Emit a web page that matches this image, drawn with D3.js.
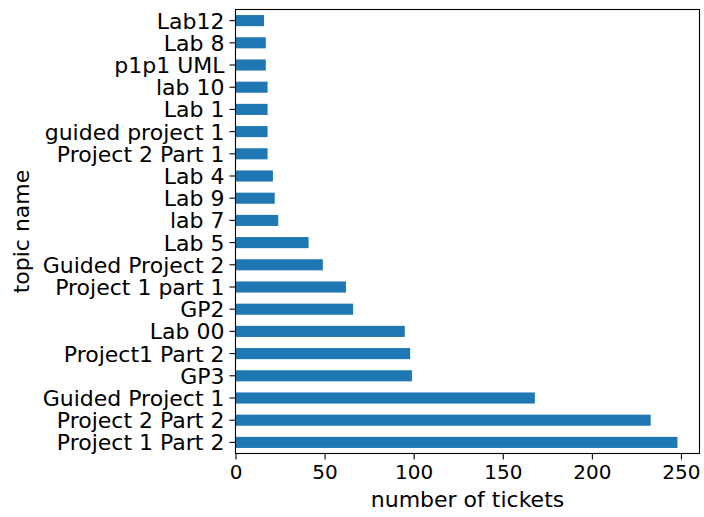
<!DOCTYPE html>
<html>
<head>
<meta charset="utf-8">
<script src="https://cdn.jsdelivr.net/npm/d3@7"></script>
<style>
html, body { margin: 0; padding: 0; background: #fff; }
svg { display: block; font-family: "DejaVu Sans", sans-serif; }
</style>
</head>
<body>
<svg id="chart" width="704" height="517"></svg>
<script>
const topics = ["Lab12","Lab 8","p1p1 UML","lab 10","Lab 1","guided project 1","Project 2 Part 1","Lab 4","Lab 9","lab 7","Lab 5","Guided Project 2","Project 1 part 1","GP2","Lab 00","Project1 Part 2","GP3","Guided Project 1","Project 2 Part 2","Project 1 Part 2"];
const tickets = [16,17,17,18,18,18,18,21,22,24,41,49,62,66,95,98,99,168,233,248];
const xTicks = [0,50,100,150,200,250];
const xLabel = "number of tickets";
const yLabel = "topic name";

const svg = d3.select("#chart");
const mLeft = 235.5, mRight = 699.5, mTop = 9.5, mBottom = 453.5;

const x = d3.scaleLinear().domain([0, d3.max(tickets) * 1.05]).range([mLeft, mRight]);
const y = d3.scaleBand().domain(topics).range([mTop, mBottom]).paddingInner(0.5).paddingOuter(0.25);

svg.append("g").selectAll("rect").data(topics).join("rect")
  .attr("x", x(0))
  .attr("y", d => y(d))
  .attr("width", (d, i) => x(tickets[i]) - x(0))
  .attr("height", y.bandwidth())
  .attr("fill", "#1f77b4");

const xAxis = svg.append("g").attr("transform", `translate(0,${mBottom})`)
  .call(d3.axisBottom(x).tickValues(xTicks).tickSize(6).tickPadding(5).tickFormat(d3.format("d")));
const yAxis = svg.append("g").attr("transform", `translate(${mLeft},0)`)
  .call(d3.axisLeft(y).tickSize(6).tickPadding(5));

[xAxis, yAxis].forEach(g => {
  g.select(".domain").remove();
  g.selectAll(".tick line").attr("stroke", "#000").attr("stroke-width", 1.1);
  g.selectAll(".tick text").attr("fill", "#000").style("font-family", "DejaVu Sans");
});
xAxis.selectAll(".tick text").style("font-size", "20px").attr("dy", "0.74em");
yAxis.selectAll(".tick text").style("font-size", "22px").attr("dy", "0.36em");

svg.append("rect")
  .attr("x", mLeft).attr("y", mTop)
  .attr("width", mRight - mLeft).attr("height", mBottom - mTop)
  .attr("fill", "none").attr("stroke", "#000").attr("stroke-width", 1.1);

svg.append("text")
  .attr("x", (mLeft + mRight) / 2).attr("y", 507)
  .attr("text-anchor", "middle").style("font-size", "22px").attr("fill", "#000")
  .text(xLabel);

svg.append("text")
  .attr("transform", `translate(29,${(mTop + mBottom) / 2}) rotate(-90)`)
  .attr("text-anchor", "middle").style("font-size", "22px").attr("fill", "#000")
  .text(yLabel);
</script>
</body>
</html>
